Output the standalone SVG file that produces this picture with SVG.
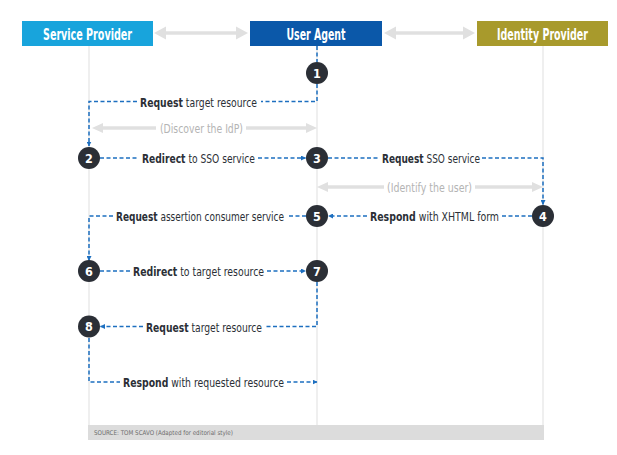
<svg xmlns="http://www.w3.org/2000/svg" width="617" height="455" viewBox="0 0 617 455">
<defs>
<style>
text{font-family:"DejaVu Sans Condensed","DejaVu Sans","Liberation Sans",sans-serif}
.hdr{font-size:16px;font-weight:bold;fill:#fff;text-anchor:middle}
.num{font-size:12.5px;font-weight:bold;fill:#fff;text-anchor:middle}
.lbl{font-size:13px;fill:#2b2f36;text-anchor:middle}
.lbl .b{font-weight:bold}
.gtx{font-size:13px;fill:#b4b4b4;text-anchor:middle}
.life{stroke:#e4e4e4;stroke-width:1.2;fill:none}
.dash{stroke:#1d6fc0;stroke-width:1.5;stroke-dasharray:4 2.5;fill:none}
.ga{fill:#e0e0e0}
.gl{stroke:#e0e0e0;stroke-width:3.5;fill:none}
.circ{fill:#2b2f36}
</style>
<marker id="ah" viewBox="0 0 10 10" refX="9" refY="5" markerWidth="5" markerHeight="5" orient="auto" markerUnits="userSpaceOnUse">
<path d="M0,0 L10,5 L0,10 z" fill="#1d6fc0"/>
</marker>
</defs>
<rect width="617" height="455" fill="#fff"/>
<g id="lifelines">
<line class="life" x1="89" y1="46" x2="89" y2="425"/>
<line class="life" x1="317" y1="46" x2="317" y2="425"/>
<line class="life" x1="543" y1="46" x2="543" y2="425"/>
</g>
<g id="footer">
<rect x="88" y="425" width="456" height="15" fill="#dcdcdc"/>
<text x="94" y="435" textLength="139" lengthAdjust="spacingAndGlyphs" style="font-size:6.5px;fill:#6d6d6d">SOURCE: TOM SCAVO (Adapted for editorial style)</text>
</g>
<g id="header-arrows">
<line class="gl" x1="162" y1="33" x2="240" y2="33"/>
<polygon class="ga" points="154,33 166,26.5 166,39.5"/>
<polygon class="ga" points="248,33 236,26.5 236,39.5"/>
<line class="gl" x1="392" y1="33" x2="467" y2="33"/>
<polygon class="ga" points="384,33 396,26.5 396,39.5"/>
<polygon class="ga" points="475,33 463,26.5 463,39.5"/>
</g>
<g id="sp"><rect x="22" y="21" width="131" height="25" fill="#18a4dc"/><text class="hdr" x="87.5" y="39.5" textLength="89" lengthAdjust="spacingAndGlyphs">Service Provider</text></g>
<g id="ua"><rect x="250" y="21" width="132" height="25" fill="#0b58a9"/><text class="hdr" x="316" y="39.5" textLength="59" lengthAdjust="spacingAndGlyphs">User Agent</text></g>
<g id="idp"><rect x="477" y="21" width="131" height="25" fill="#a89a2c"/><text class="hdr" x="542.5" y="39.5" textLength="91" lengthAdjust="spacingAndGlyphs">Identity Provider</text></g>
<g id="connectors">
<path class="dash" d="M317,46 V62"/>
<path class="dash" d="M317,84 V101.5 H261"/>
<path class="dash" d="M137,101.5 H89 V146" marker-end="url(#ah)"/>
<text class="lbl" x="198.5" y="106.5" textLength="117" lengthAdjust="spacingAndGlyphs"><tspan class="b">Request</tspan> target resource</text>

<line class="gl" x1="100" y1="128" x2="156" y2="128"/>
<line class="gl" x1="246" y1="128" x2="309" y2="128"/>
<polygon class="ga" points="92,128 103,123 103,133"/>
<polygon class="ga" points="317,128 306,123 306,133"/>
<text class="gtx" x="201.5" y="133" textLength="83" lengthAdjust="spacingAndGlyphs">(Discover the IdP)</text>

<path class="dash" d="M100,158 H139"/>
<path class="dash" d="M258,158 H305.5" marker-end="url(#ah)"/>
<text class="lbl" x="198.5" y="163" textLength="113" lengthAdjust="spacingAndGlyphs"><tspan class="b">Redirect</tspan> to SSO service</text>

<path class="dash" d="M328,158 H379"/>
<path class="dash" d="M482,158 H543 V204.5" marker-end="url(#ah)"/>
<text class="lbl" x="431" y="163" textLength="98" lengthAdjust="spacingAndGlyphs"><tspan class="b">Request</tspan> SSO service</text>

<line class="gl" x1="325" y1="187" x2="384" y2="187"/>
<line class="gl" x1="475" y1="187" x2="535" y2="187"/>
<polygon class="ga" points="317,187 328,182 328,192"/>
<polygon class="ga" points="543,187 532,182 532,192"/>
<text class="gtx" x="429.5" y="192" textLength="85" lengthAdjust="spacingAndGlyphs">(Identify the user)</text>

<path class="dash" d="M532,216 H502"/>
<path class="dash" d="M367,216 H328.5" marker-end="url(#ah)"/>
<text class="lbl" x="434.5" y="221" textLength="129" lengthAdjust="spacingAndGlyphs"><tspan class="b">Respond</tspan> with XHTML form</text>

<path class="dash" d="M306,216 H287"/>
<path class="dash" d="M113,216 H89 V260.5" marker-end="url(#ah)"/>
<text class="lbl" x="200" y="221" textLength="168" lengthAdjust="spacingAndGlyphs"><tspan class="b">Request</tspan> assertion consumer service</text>

<path class="dash" d="M100,271 H130"/>
<path class="dash" d="M267,271 H305.5" marker-end="url(#ah)"/>
<text class="lbl" x="198.5" y="276" textLength="131" lengthAdjust="spacingAndGlyphs"><tspan class="b">Redirect</tspan> to target resource</text>

<path class="dash" d="M317,282 V326.5 H265"/>
<path class="dash" d="M143,326.5 H100.5" marker-end="url(#ah)"/>
<text class="lbl" x="204" y="331.5" textLength="116" lengthAdjust="spacingAndGlyphs"><tspan class="b">Request</tspan> target resource</text>

<path class="dash" d="M89,338 V382 H120"/>
<path class="dash" d="M287,382 H317" marker-end="url(#ah)"/>
<text class="lbl" x="203.5" y="387" textLength="161" lengthAdjust="spacingAndGlyphs"><tspan class="b">Respond</tspan> with requested resource</text>
</g>
<g id="n1"><circle class="circ" cx="317" cy="73" r="11"/><text class="num" x="317" y="77.5">1</text></g>
<g id="n2"><circle class="circ" cx="89" cy="158" r="11"/><text class="num" x="89" y="162.5">2</text></g>
<g id="n3"><circle class="circ" cx="317" cy="158" r="11"/><text class="num" x="317" y="162.5">3</text></g>
<g id="n4"><circle class="circ" cx="543" cy="216" r="11"/><text class="num" x="543" y="220.5">4</text></g>
<g id="n5"><circle class="circ" cx="317" cy="216" r="11"/><text class="num" x="317" y="220.5">5</text></g>
<g id="n6"><circle class="circ" cx="89" cy="271" r="11"/><text class="num" x="89" y="275.5">6</text></g>
<g id="n7"><circle class="circ" cx="317" cy="271" r="11"/><text class="num" x="317" y="275.5">7</text></g>
<g id="n8"><circle class="circ" cx="89" cy="326.5" r="11"/><text class="num" x="89" y="331">8</text></g>
</svg>
